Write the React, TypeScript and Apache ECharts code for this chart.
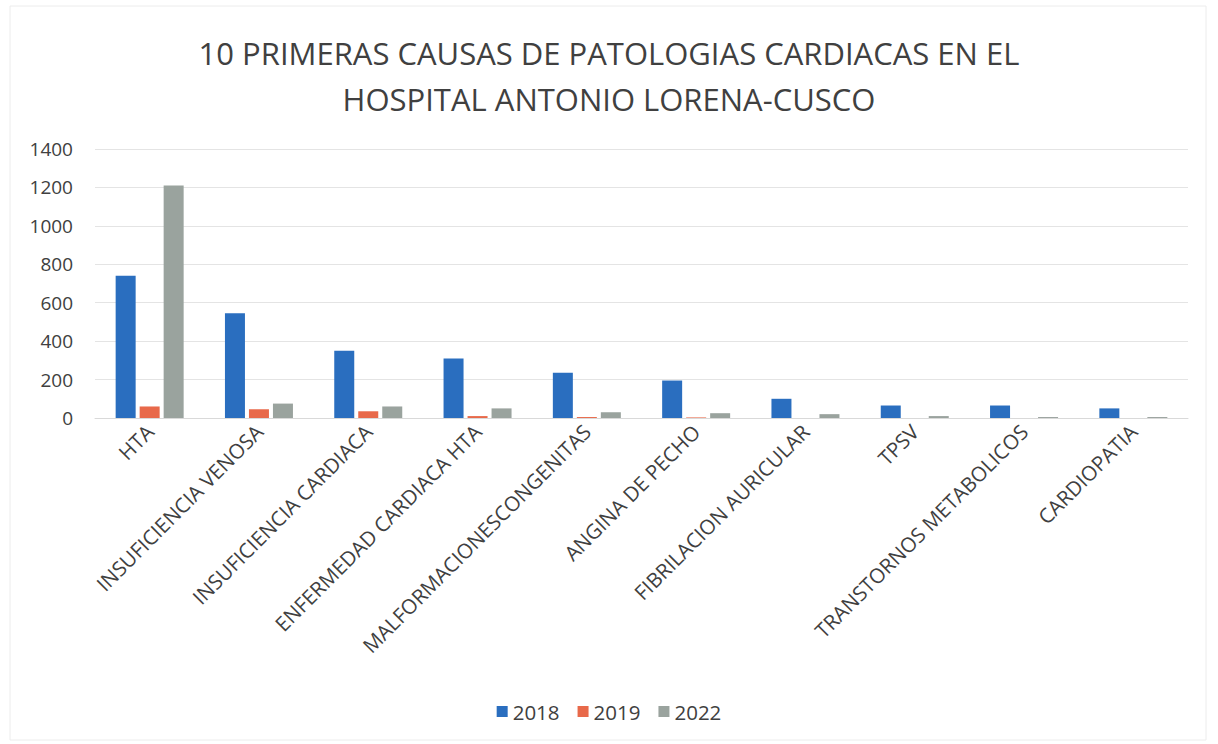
import React, { useEffect, useRef } from "react";
import * as echarts from "echarts";

const categories = [
  "HTA",
  "INSUFICIENCIA VENOSA",
  "INSUFICIENCIA CARDIACA",
  "ENFERMEDAD CARDIACA HTA",
  "MALFORMACIONESCONGENITAS",
  "ANGINA DE PECHO",
  "FIBRILACION AURICULAR",
  "TPSV",
  "TRANSTORNOS METABOLICOS",
  "CARDIOPATIA",
];
const values2018 = [740, 545, 350, 310, 235, 195, 100, 65, 65, 50];
const values2019 = [60, 45, 35, 10, 5, 3, 0, 0, 0, 0];
const values2022 = [1210, 75, 60, 50, 30, 25, 20, 10, 5, 5];
const titleLines = [
  "10 PRIMERAS CAUSAS DE PATOLOGIAS CARDIACAS EN EL",
  "HOSPITAL ANTONIO LORENA-CUSCO",
];

export default function App() {
  const ref = useRef<HTMLDivElement>(null);
  useEffect(() => {
    if (!ref.current) return;
    const chart = echarts.init(ref.current, null, { renderer: "svg" });
    const font = "'Open Sans', 'Noto Sans', sans-serif";
    chart.setOption({
      animation: false,
      backgroundColor: "#ffffff",
      graphic: [
        {
          type: "rect",
          shape: { x: 10, y: 6, width: 1196, height: 734 },
          style: { fill: "none", stroke: "#ececec", lineWidth: 1 },
          silent: true,
        },
      ],
      title: {
        text: titleLines.join("\n"),
        left: "center",
        top: 25,
        textStyle: {
          fontFamily: font,
          fontSize: 31,
          fontWeight: "normal",
          color: "#404040",
          lineHeight: 46,
        },
      },
      legend: {
        bottom: 17,
        left: "center",
        itemWidth: 11,
        itemHeight: 11,
        itemGap: 18,
        icon: "rect",
        textStyle: { fontFamily: font, fontSize: 20.5, color: "#404040" },
        data: ["2018", "2019", "2022"],
      },
      grid: { left: 95, right: 30, top: 149, bottom: 326, containLabel: false },
      xAxis: {
        type: "category",
        data: categories,
        axisTick: { show: false },
        axisLine: { lineStyle: { color: "#d9d9d9" } },
        axisLabel: {
          rotate: 45,
          interval: 0,
          margin: 10,
          fontFamily: font,
          fontSize: 20.5,
          color: "#404040",
        },
      },
      yAxis: {
        type: "value",
        min: 0,
        max: 1400,
        interval: 200,
        axisLine: { show: false },
        axisTick: { show: false },
        splitLine: { lineStyle: { color: "#e4e4e4" } },
        axisLabel: {
          margin: 22,
          fontFamily: font,
          fontSize: 19,
          color: "#404040",
          formatter: (v: number) => String(v),
        },
      },
      series: [
        {
          name: "2018",
          type: "bar",
          data: values2018,
          barWidth: 20,
          barGap: "20%",
          itemStyle: { color: "#2a6ebf" },
        },
        {
          name: "2019",
          type: "bar",
          data: values2019,
          barWidth: 20,
          barGap: "20%",
          itemStyle: { color: "#e8694a" },
        },
        {
          name: "2022",
          type: "bar",
          data: values2022,
          barWidth: 20,
          barGap: "20%",
          itemStyle: { color: "#9aa39e" },
        },
      ],
    });
    return () => chart.dispose();
  }, []);
  return (
    <div
      ref={ref}
      style={{
        position: "fixed",
        left: 0,
        top: 0,
        width: 1218,
        height: 744,
      }}
    />
  );
}
